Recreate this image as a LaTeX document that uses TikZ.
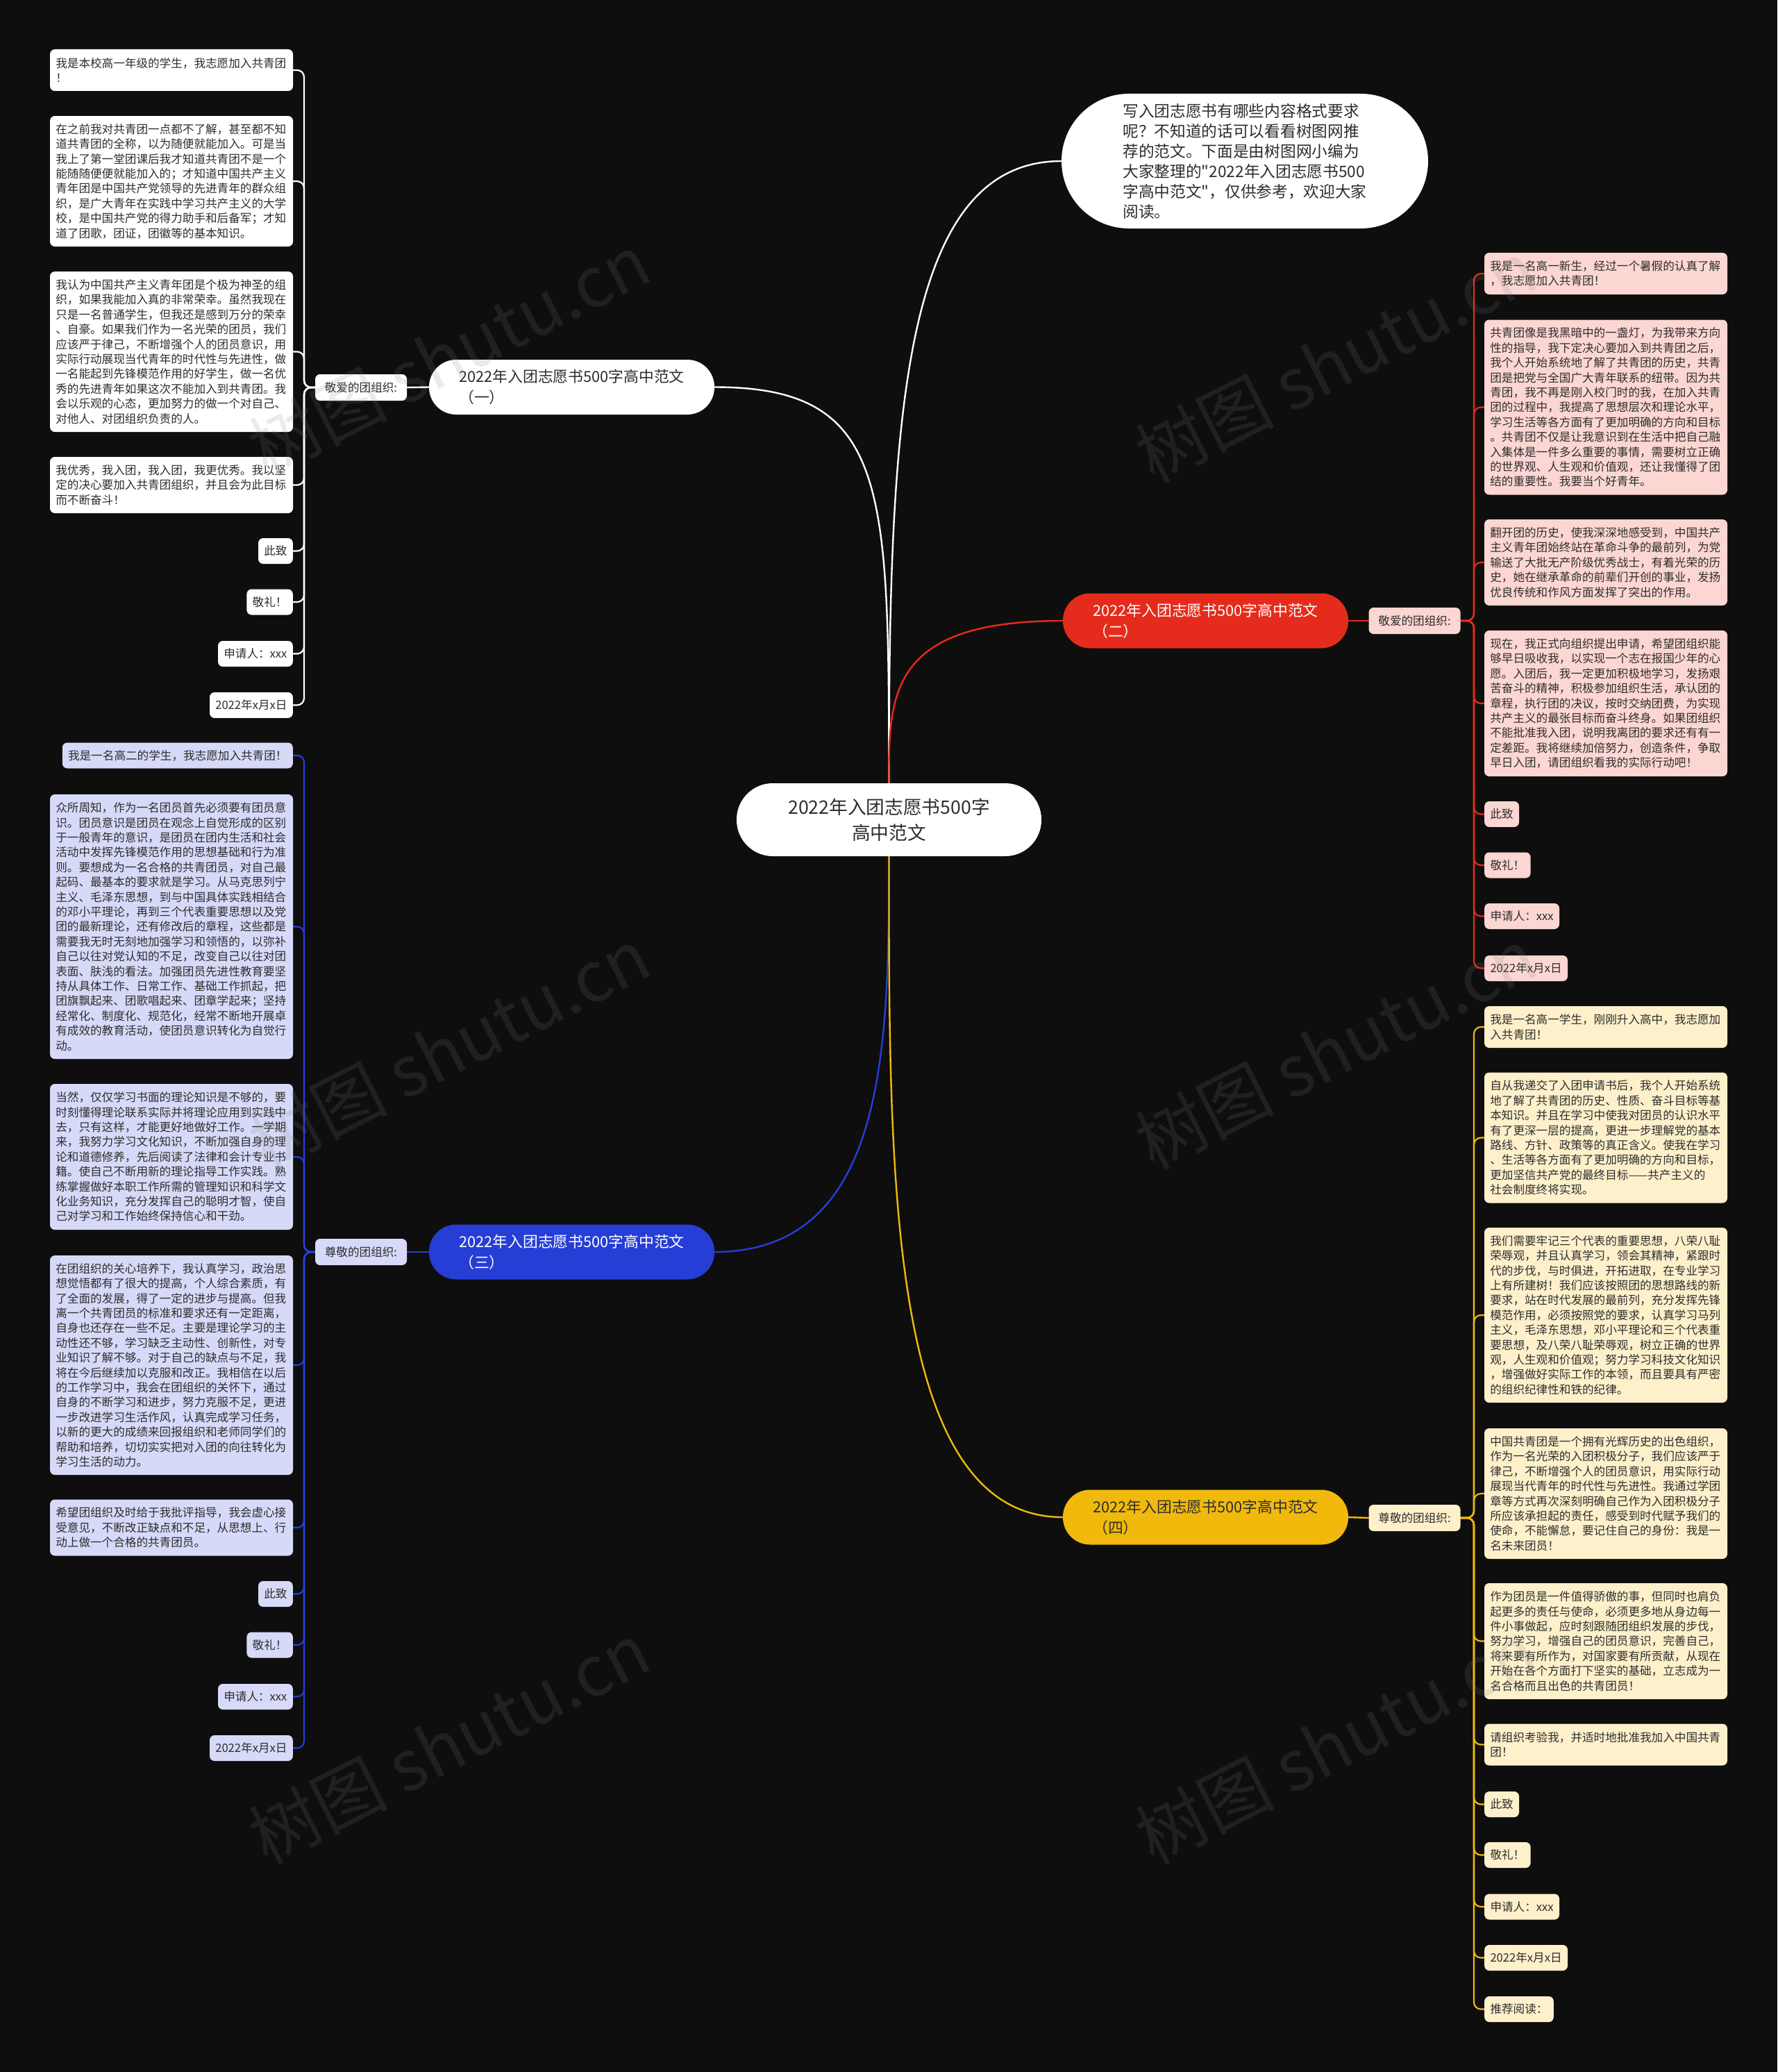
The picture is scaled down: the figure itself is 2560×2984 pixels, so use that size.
\documentclass[tikz,border=0pt]{standalone}
\usepackage{fontspec}
\setmainfont{Noto Sans CJK SC}[Ligatures=TeXOff]
\pgfdeclarelayer{bglayer}
\pgfdeclarelayer{linelayer}
\pgfsetlayers{bglayer,linelayer,main}
\definecolor{bgc}{RGB}{14,14,14}
\definecolor{ink}{RGB}{45,45,45}
\definecolor{redc}{RGB}{229,44,28}
\definecolor{bluec}{RGB}{38,62,214}
\definecolor{yelc}{RGB}{240,185,12}
\definecolor{pinkc}{RGB}{252,214,210}
\definecolor{lavc}{RGB}{214,218,248}
\definecolor{crmc}{RGB}{253,240,203}
\tikzset{
  leafbase/.style={rectangle, rounded corners=7, inner xsep=8.3, inner ysep=0,
    font=\fontsize{16.6}{21.4}\selectfont, text=ink},
  longleaf/.style={leafbase, text width=333.4, align=left, minimum width=350},
  shortleaf/.style={leafbase, minimum height=37},
  lbl/.style={leafbase, minimum width=132, minimum height=38},
  branch/.style={rectangle, rounded corners=39, minimum width=411, minimum height=79,
    align=left, font=\fontsize{21.8}{30}\selectfont},
  conn/.style={line width=2.4, line cap=round},
  spine/.style={line width=2.2, rounded corners=10},
  wm/.style={font=\fontsize{100}{100}\selectfont, text=gray, opacity=0.16, rotate=27},
}
\begin{document}
\begin{tikzpicture}[x=1pt,y=-1pt]
\begin{pgfonlayer}{bglayer}
\fill[bgc] (0,0) rectangle (2560,2984);
\end{pgfonlayer}
\useasboundingbox (0,0) rectangle (2560,2984);

% center
\node[rectangle, rounded corners=52, fill=white, minimum width=439, minimum height=105,
  align=center, text=ink, font=\fontsize{26.7}{37}\selectfont] (ctr) at (1280.5,1180.5)
  {2022年入团志愿书500字\\高中范文};

% intro bubble
\node[rectangle, rounded corners=97, fill=white, minimum width=528, minimum height=194,
  align=left, text=ink, font=\fontsize{22.7}{29}\selectfont] (intro) at (1793,232)
  {写入团志愿书有哪些内容格式要求\\呢？不知道的话可以看看树图网推\\荐的范文。下面是由树图网小编为\\大家整理的"2022年入团志愿书500\\字高中范文"，仅供参考，欢迎大家\\阅读。};

% branches
\node[branch, fill=white, text=ink] (b1) at (823.5,557.5) {2022年入团志愿书500字高中范文\\（一）};
\node[branch, fill=redc, text=white] (b2) at (1736.5,894) {2022年入团志愿书500字高中范文\\（二）};
\node[branch, fill=bluec, text=white] (b3) at (823.5,1803) {2022年入团志愿书500字高中范文\\（三）};
\node[branch, fill=yelc, text=ink] (b4) at (1736.5,2185) {2022年入团志愿书500字高中范文\\（四）};

% labels
\node[lbl, fill=white] (l1) at (520,558) {敬爱的团组织:};
\node[lbl, fill=pinkc] (l2) at (2037.5,894) {敬爱的团组织:};
\node[lbl, fill=lavc] (l3) at (520,1803) {尊敬的团组织:};
\node[lbl, fill=crmc] (l4) at (2037.5,2186) {尊敬的团组织:};

% ---------- column 1 (white) ----------
\node[longleaf, fill=white, minimum height=60] (a1) at (247,101)
 {我是本校高一年级的学生，我志愿加入共青团\\！};
\node[longleaf, fill=white, minimum height=188] (a2) at (247,261)
 {在之前我对共青团一点都不了解，甚至都不知\\道共青团的全称，以为随便就能加入。可是当\\我上了第一堂团课后我才知道共青团不是一个\\能随随便便就能加入的；才知道中国共产主义\\青年团是中国共产党领导的先进青年的群众组\\织，是广大青年在实践中学习共产主义的大学\\校，是中国共产党的得力助手和后备军；才知\\道了团歌，团证，团徽等的基本知识。};
\node[longleaf, fill=white, minimum height=231] (a3) at (247,506.5)
 {我认为中国共产主义青年团是个极为神圣的组\\织，如果我能加入真的非常荣幸。虽然我现在\\只是一名普通学生，但我还是感到万分的荣幸\\、自豪。如果我们作为一名光荣的团员，我们\\应该严于律己，不断增强个人的团员意识，用\\实际行动展现当代青年的时代性与先进性，做\\一名能起到先锋模范作用的好学生，做一名优\\秀的先进青年如果这次不能加入到共青团。我\\会以乐观的心态，更加努力的做一个对自己、\\对他人、对团组织负责的人。};
\node[longleaf, fill=white, minimum height=81] (a4) at (247,698.5)
 {我优秀，我入团，我入团，我更优秀。我以坚\\定的决心要加入共青团组织，并且会为此目标\\而不断奋斗！};
\node[shortleaf, fill=white, anchor=east] (a5) at (422,793.5) {此致};
\node[shortleaf, fill=white, anchor=east] (a6) at (422,867) {敬礼！};
\node[shortleaf, fill=white, anchor=east] (a7) at (422,941.5) {申请人：xxx};
\node[shortleaf, fill=white, anchor=east] (a8) at (422,1015.5) {2022年x月x日};

% ---------- column 3 (blue) ----------
\node[shortleaf, fill=lavc, anchor=east] (c1) at (422,1088) {我是一名高二的学生，我志愿加入共青团！};
\node[longleaf, fill=lavc, minimum height=381] (c2) at (247,1334.5)
 {众所周知，作为一名团员首先必须要有团员意\\识。团员意识是团员在观念上自觉形成的区别\\于一般青年的意识，是团员在团内生活和社会\\活动中发挥先锋模范作用的思想基础和行为准\\则。要想成为一名合格的共青团员，对自己最\\起码、最基本的要求就是学习。从马克思列宁\\主义、毛泽东思想，到与中国具体实践相结合\\的邓小平理论，再到三个代表重要思想以及党\\团的最新理论，还有修改后的章程，这些都是\\需要我无时无刻地加强学习和领悟的，以弥补\\自己以往对党认知的不足，改变自己以往对团\\表面、肤浅的看法。加强团员先进性教育要坚\\持从具体工作、日常工作、基础工作抓起，把\\团旗飘起来、团歌唱起来、团章学起来；坚持\\经常化、制度化、规范化，经常不断地开展卓\\有成效的教育活动，使团员意识转化为自觉行\\动。};
\node[longleaf, fill=lavc, minimum height=210] (c3) at (247,1666)
 {当然，仅仅学习书面的理论知识是不够的，要\\时刻懂得理论联系实际并将理论应用到实践中\\去，只有这样，才能更好地做好工作。一学期\\来，我努力学习文化知识，不断加强自身的理\\论和道德修养，先后阅读了法律和会计专业书\\籍。使自己不断用新的理论指导工作实践。熟\\练掌握做好本职工作所需的管理知识和科学文\\化业务知识，充分发挥自己的聪明才智，使自\\己对学习和工作始终保持信心和干劲。};
\node[longleaf, fill=lavc, minimum height=316] (c4) at (247,1966)
 {在团组织的关心培养下，我认真学习，政治思\\想觉悟都有了很大的提高，个人综合素质，有\\了全面的发展，得了一定的进步与提高。但我\\离一个共青团员的标准和要求还有一定距离，\\自身也还存在一些不足。主要是理论学习的主\\动性还不够，学习缺乏主动性、创新性，对专\\业知识了解不够。对于自己的缺点与不足，我\\将在今后继续加以克服和改正。我相信在以后\\的工作学习中，我会在团组织的关怀下，通过\\自身的不断学习和进步，努力克服不足，更进\\一步改进学习生活作风，认真完成学习任务，\\以新的更大的成绩来回报组织和老师同学们的\\帮助和培养，切切实实把对入团的向往转化为\\学习生活的动力。};
\node[longleaf, fill=lavc, minimum height=81] (c5) at (247,2200)
 {希望团组织及时给于我批评指导，我会虚心接\\受意见，不断改正缺点和不足，从思想上、行\\动上做一个合格的共青团员。};
\node[shortleaf, fill=lavc, anchor=east] (c6) at (422,2295.5) {此致};
\node[shortleaf, fill=lavc, anchor=east] (c7) at (422,2369) {敬礼！};
\node[shortleaf, fill=lavc, anchor=east] (c8) at (422,2443.5) {申请人：xxx};
\node[shortleaf, fill=lavc, anchor=east] (c9) at (422,2517.5) {2022年x月x日};

% ---------- column 2 (red) ----------
\node[longleaf, fill=pinkc, minimum height=60] (r1) at (2313,394)
 {我是一名高一新生，经过一个暑假的认真了解\\，我志愿加入共青团！};
\node[longleaf, fill=pinkc, minimum height=252] (r2) at (2313,586.5)
 {共青团像是我黑暗中的一盏灯，为我带来方向\\性的指导，我下定决心要加入到共青团之后，\\我个人开始系统地了解了共青团的历史，共青\\团是把党与全国广大青年联系的纽带。因为共\\青团，我不再是刚入校门时的我，在加入共青\\团的过程中，我提高了思想层次和理论水平，\\学习生活等各方面有了更加明确的方向和目标\\。共青团不仅是让我意识到在生活中把自己融\\入集体是一件多么重要的事情，需要树立正确\\的世界观、人生观和价值观，还让我懂得了团\\结的重要性。我要当个好青年。};
\node[longleaf, fill=pinkc, minimum height=124] (r3) at (2313,810)
 {翻开团的历史，使我深深地感受到，中国共产\\主义青年团始终站在革命斗争的最前列，为党\\输送了大批无产阶级优秀战士，有着光荣的历\\史，她在继承革命的前辈们开创的事业，发扬\\优良传统和作风方面发挥了突出的作用。};
\node[longleaf, fill=pinkc, minimum height=210] (r4) at (2313,1013)
 {现在，我正式向组织提出申请，希望团组织能\\够早日吸收我，以实现一个志在报国少年的心\\愿。入团后，我一定更加积极地学习，发扬艰\\苦奋斗的精神，积极参加组织生活，承认团的\\章程，执行团的决议，按时交纳团费，为实现\\共产主义的最张目标而奋斗终身。如果团组织\\不能批准我入团，说明我离团的要求还有有一\\定差距。我将继续加倍努力，创造条件，争取\\早日入团，请团组织看我的实际行动吧！};
\node[shortleaf, fill=pinkc, anchor=west] (r5) at (2138,1172.5) {此致};
\node[shortleaf, fill=pinkc, anchor=west] (r6) at (2138,1246) {敬礼！};
\node[shortleaf, fill=pinkc, anchor=west] (r7) at (2138,1319.5) {申请人：xxx};
\node[shortleaf, fill=pinkc, anchor=west] (r8) at (2138,1394.5) {2022年x月x日};

% ---------- column 4 (yellow) ----------
\node[longleaf, fill=crmc, minimum height=60] (y1) at (2313,1479)
 {我是一名高一学生，刚刚升入高中，我志愿加\\入共青团！};
\node[longleaf, fill=crmc, minimum height=188] (y2) at (2313,1638.5)
 {自从我递交了入团申请书后，我个人开始系统\\地了解了共青团的历史、性质、奋斗目标等基\\本知识。并且在学习中使我对团员的认识水平\\有了更深一层的提高，更进一步理解党的基本\\路线、方针、政策等的真正含义。使我在学习\\、生活等各方面有了更加明确的方向和目标，\\更加坚信共产党的最终目标——共产主义的\\社会制度终将实现。};
\node[longleaf, fill=crmc, minimum height=252] (y3) at (2313,1894)
 {我们需要牢记三个代表的重要思想，八荣八耻\\荣辱观，并且认真学习，领会其精神，紧跟时\\代的步伐，与时俱进，开拓进取，在专业学习\\上有所建树！我们应该按照团的思想路线的新\\要求，站在时代发展的最前列，充分发挥先锋\\模范作用，必须按照党的要求，认真学习马列\\主义，毛泽东思想，邓小平理论和三个代表重\\要思想，及八荣八耻荣辱观，树立正确的世界\\观，人生观和价值观；努力学习科技文化知识\\，增强做好实际工作的本领，而且要具有严密\\的组织纪律性和铁的纪律。};
\node[longleaf, fill=crmc, minimum height=188] (y4) at (2313,2151)
 {中国共青团是一个拥有光辉历史的出色组织，\\作为一名光荣的入团积极分子，我们应该严于\\律己，不断增强个人的团员意识，用实际行动\\展现当代青年的时代性与先进性。我通过学团\\章等方式再次深刻明确自己作为入团积极分子\\所应该承担起的责任，感受到时代赋予我们的\\使命，不能懈怠，要记住自己的身份：我是一\\名未来团员！};
\node[longleaf, fill=crmc, minimum height=167] (y5) at (2313,2363.5)
 {作为团员是一件值得骄傲的事，但同时也肩负\\起更多的责任与使命，必须更多地从身边每一\\件小事做起，应时刻跟随团组织发展的步伐，\\努力学习，增强自己的团员意识，完善自己，\\将来要有所作为，对国家要有所贡献，从现在\\开始在各个方面打下坚实的基础，立志成为一\\名合格而且出色的共青团员！};
\node[longleaf, fill=crmc, minimum height=60] (y6) at (2313,2512.5)
 {请组织考验我，并适时地批准我加入中国共青\\团！};
\node[shortleaf, fill=crmc, anchor=west] (y7) at (2138,2598.5) {此致};
\node[shortleaf, fill=crmc, anchor=west] (y8) at (2138,2671.5) {敬礼！};
\node[shortleaf, fill=crmc, anchor=west] (y9) at (2138,2746) {申请人：xxx};
\node[shortleaf, fill=crmc, anchor=west] (y10) at (2138,2819.5) {2022年x月x日};
\node[shortleaf, fill=crmc, anchor=west] (y11) at (2138,2893.5) {推荐阅读：};

% spine coordinates
\coordinate (s1) at (438,558);
\coordinate (s2) at (2123,894);
\coordinate (s3) at (438,1803);
\coordinate (s4) at (2123,2186);

\begin{pgfonlayer}{linelayer}
% center connectors
\draw[conn, white] (intro.west) .. controls (1300,232) and (1280,600) .. (ctr.north);
\draw[conn, white] (b1.east) .. controls (1280,557.5) and (1280,700) .. (ctr.north);
\draw[conn, redc] (b2.west) .. controls (1280,894) and (1280,1000) .. (ctr.north);
\draw[conn, bluec] (b3.east) .. controls (1280,1803) and (1280,1500) .. (ctr.south);
\draw[conn, yelc] (b4.west) .. controls (1280,2185) and (1280,1700) .. (ctr.south);
% branch to label
\draw[conn, white] (b1.west) -- (l1.east);
\draw[conn, redc] (b2.east) -- (l2.west);
\draw[conn, bluec] (b3.west) -- (l3.east);
\draw[conn, yelc] (b4.east) -- (l4.west);
% spines
\foreach \n in {a1,a2,a3,a4,a5,a6,a7,a8}
  \draw[spine, white] (l1.west) -- (s1) |- (\n.east);
\foreach \n in {c1,c2,c3,c4,c5,c6,c7,c8,c9}
  \draw[spine, bluec] (l3.west) -- (s3) |- (\n.east);
\foreach \n in {r1,r2,r3,r4,r5,r6,r7,r8}
  \draw[spine, redc] (l2.east) -- (s2) |- (\n.west);
\foreach \n in {y1,y2,y3,y4,y5,y6,y7,y8,y9,y10,y11}
  \draw[spine, yelc] (l4.east) -- (s4) |- (\n.west);
\end{pgfonlayer}

% watermarks
\node[wm] (wm1) at (647,510) {树图 shutu.cn};
\node[wm] (wm2) at (647,1510) {树图 shutu.cn};
\node[wm] (wm3) at (647,2510) {树图 shutu.cn};
\node[wm] (wm4) at (1924,520) {树图 shutu.cn};
\node[wm] (wm5) at (1924,1510) {树图 shutu.cn};
\node[wm] (wm6) at (1924,2510) {树图 shutu.cn};
\end{tikzpicture}
\end{document}
